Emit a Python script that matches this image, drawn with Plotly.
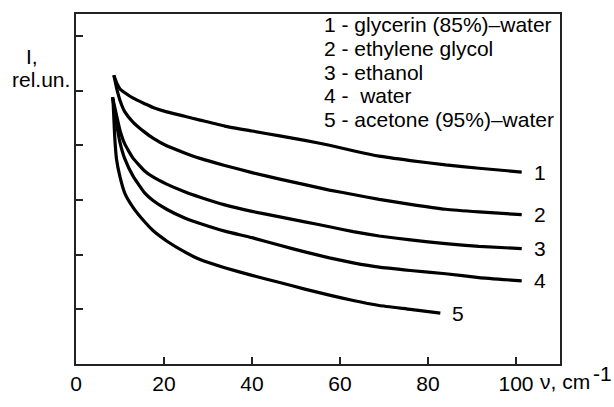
import plotly.graph_objects as go

# ---- data ----
x1 = [8.6, 9.3, 10, 11.1, 13, 15.6, 17.5, 20.6, 24.7, 28.2, 33.8, 40, 46.3, 52, 57.6, 63, 68.9, 76, 84, 91.6, 101.3]
y1 = [5.28, 5.13, 5.03, 4.96, 4.86, 4.76, 4.69, 4.61, 4.53, 4.46, 4.35, 4.26, 4.17, 4.09, 4.00, 3.90, 3.80, 3.72, 3.64, 3.58, 3.51]

x2 = [8.6, 9.3, 10, 11.1, 13, 15.6, 17.5, 20.6, 24.7, 28.2, 33.8, 40, 46.3, 52, 57.6, 63, 68.9, 76, 84, 91.6, 101.3]
y2 = [5.28, 5.02, 4.82, 4.61, 4.42, 4.24, 4.13, 3.99, 3.86, 3.76, 3.63, 3.50, 3.38, 3.28, 3.18, 3.10, 3.01, 2.92, 2.83, 2.78, 2.73]

x3 = [8.3, 9.2, 10, 11.1, 13, 15.6, 17.5, 20.6, 24.7, 28.2, 33.8, 40, 46.3, 52, 57.6, 63, 68.9, 76, 84, 91.6, 101.3]
y3 = [4.88, 4.55, 4.27, 4.02, 3.76, 3.53, 3.42, 3.29, 3.15, 3.05, 2.91, 2.79, 2.69, 2.60, 2.51, 2.42, 2.34, 2.27, 2.20, 2.15, 2.11]

x4 = [8.3, 9.2, 10, 11.1, 13, 15.6, 17.5, 20.6, 24.7, 28.2, 33.8, 40, 46.3, 52, 57.6, 63, 68.9, 76, 84, 91.6, 101.3]
y4 = [4.88, 4.40, 4.05, 3.75, 3.43, 3.13, 2.99, 2.83, 2.67, 2.57, 2.43, 2.31, 2.17, 2.05, 1.94, 1.85, 1.77, 1.71, 1.65, 1.58, 1.52]

x5 = [8.4, 8.8, 9.2, 10, 11.1, 13, 15.6, 17.5, 20.6, 24.7, 28.2, 33.8, 40, 46.3, 52, 57.6, 63, 68.9, 76, 82.8]
y5 = [4.85, 4.15, 3.75, 3.42, 3.12, 2.86, 2.60, 2.44, 2.25, 2.05, 1.91, 1.76, 1.62, 1.49, 1.37, 1.26, 1.16, 1.07, 1.00, 0.93]

series_x = [x1, x2, x3, x4, x5]
series_y = [y1, y2, y3, y4, y5]
curve_labels = ["1", "2", "3", "4", "5"]
legend_lines = [
    "1 - glycerin (85%)\u2013water",
    "2 - ethylene glycol",
    "3 - ethanol",
    "4 -\u00a0\u00a0water",
    "5 - acetone (95%)\u2013water",
]
x_ticks = [0, 20, 40, 60, 80, 100]
y_ticks = [1, 2, 3, 4, 5, 6]

FONT = "Liberation Sans, Arial, sans-serif"
FS = 21
fig = go.Figure()
for xs, ys in zip(series_x, series_y):
    fig.add_trace(go.Scatter(x=xs, y=ys, mode="lines",
                             line=dict(color="black", width=3.2, shape="spline", smoothing=0.4),
                             showlegend=False, hoverinfo="skip"))

# curve number labels at line ends
for xs, ys, lab in zip(series_x, series_y, curve_labels):
    fig.add_annotation(x=xs[-1], y=ys[-1], text=lab, showarrow=False,
                       xanchor="left", xshift=10, yanchor="middle",
                       font=dict(family=FONT, size=FS, color="black"))

# legend text block
for i, t in enumerate(legend_lines):
    fig.add_annotation(x=56, y=6.2 - i * 0.433, text=t, showarrow=False,
                       xanchor="left", yanchor="middle",
                       font=dict(family=FONT, size=FS, color="black"))

# y label
fig.add_annotation(xref="paper", yref="y", x=-0.091, y=5.62, text="I,", showarrow=False,
                   xanchor="center", yanchor="middle", font=dict(family=FONT, size=FS, color="black"))
fig.add_annotation(xref="paper", yref="y", x=-0.072, y=5.2, text="rel.un.", showarrow=False,
                   xanchor="center", yanchor="middle", font=dict(family=FONT, size=FS, color="black"))
# x label (paper coords so it is not hidden below the axis range)
fig.add_annotation(xref="paper", yref="paper", x=(538 - 76) / 484, y=-0.05, text="\u03bd, cm",
                   showarrow=False, xanchor="left", yanchor="middle",
                   font=dict(family=FONT, size=FS, color="black"))
fig.add_annotation(xref="paper", yref="paper", x=(613 - 76) / 484, y=-0.028, text="-1",
                   showarrow=False, xanchor="right", yanchor="middle", borderpad=0,
                   font=dict(family=FONT, size=FS, color="black"))

fig.update_layout(
    width=614, height=407,
    margin=dict(l=76, r=54, t=12, b=25),
    paper_bgcolor="white", plot_bgcolor="white",
    font=dict(family=FONT, size=FS, color="black"),
    showlegend=False,
)
fig.update_xaxes(range=[0, 110], tickvals=x_ticks, ticktext=[str(v) for v in x_ticks],
                 ticks="inside", ticklen=7, tickwidth=1.5, tickcolor="#222",
                 showline=True, linecolor="#222", linewidth=1.5, mirror=True,
                 showgrid=False, zeroline=False, tickfont=dict(size=FS))
fig.update_yaxes(range=[0, 6.4], tickvals=y_ticks, showticklabels=False,
                 ticks="inside", ticklen=7, tickwidth=1.5, tickcolor="#222",
                 showline=True, linecolor="#222", linewidth=1.5, mirror=True,
                 showgrid=False, zeroline=False)

fig.write_html("out.html", config={"displayModeBar": False},
               post_script="document.body.style.margin='0';document.body.style.overflow='hidden';")
